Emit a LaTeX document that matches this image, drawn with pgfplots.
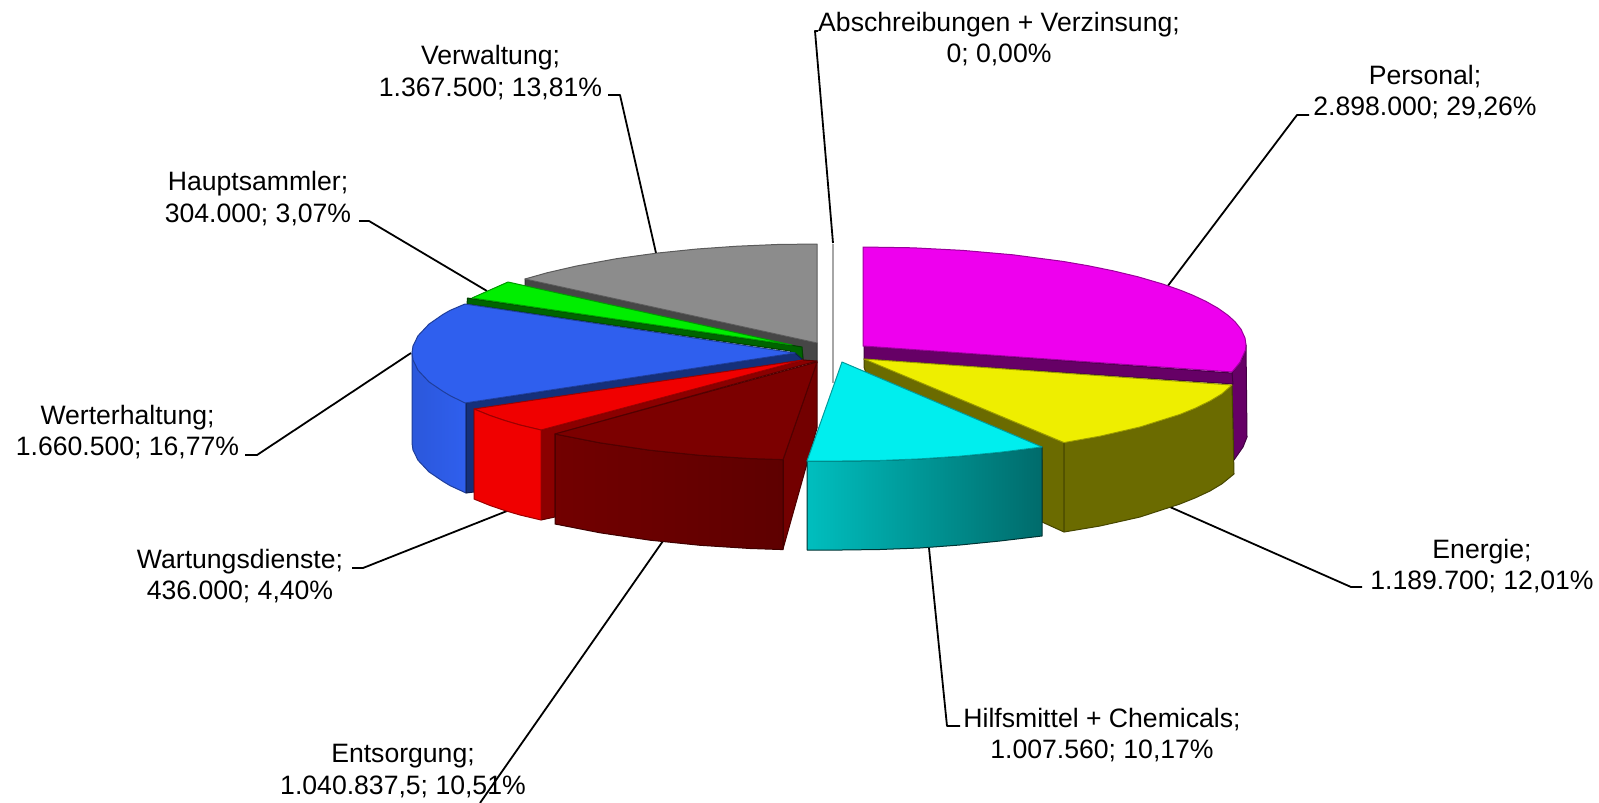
\documentclass[border=0pt]{standalone}
\usepackage{fontspec}
\setmainfont{Liberation Sans}
\usepackage{pgfplots}
\pgfplotsset{compat=1.18}
\definecolor{cMag}{HTML}{EE00EE}\definecolor{cPur}{HTML}{660066}
\definecolor{cYel}{HTML}{EEEE00}\definecolor{cOli}{HTML}{6B6B00}
\definecolor{cCya}{HTML}{00EEEE}
\definecolor{cDr}{HTML}{7C0000}\definecolor{cDrL}{HTML}{720000}\definecolor{cDrR}{HTML}{5E0000}\definecolor{cDrC}{HTML}{730000}
\definecolor{cRed}{HTML}{F00000}\definecolor{cRedC}{HTML}{8B0000}
\definecolor{cBlu}{HTML}{2F5FEE}\definecolor{cBluC}{HTML}{15307A}
\definecolor{cGre}{HTML}{00EE00}\definecolor{cGreC}{HTML}{006400}
\definecolor{cGra}{HTML}{8C8C8C}\definecolor{cGraC}{HTML}{464646}
\tikzset{
  leader/.style={black,line width=1.8pt},
  face/.style={draw=#1!65!black,line width=1pt,fill=#1},
  lab/.style={align=center,font=\fontsize{26.6}{31.4}\selectfont,inner sep=0pt,text=black},
}
\begin{document}
\begin{tikzpicture}
\begin{axis}[
  width=1599pt,height=803pt,scale only axis,
  xmin=0,xmax=1599,ymin=0,ymax=803,y dir=reverse,
  hide axis,clip=true,
  every axis plot/.append style={no markers,line join=round},
]
\addplot[draw=none] coordinates {(0,0)(1599,803)};
% leader lines
\addplot[leader] coordinates {(818,31)(815,31)(833,243)};
\addplot[leader] coordinates {(608,95)(620,95)(656,253)};
\addplot[leader] coordinates {(359,221)(369,221)(487,291)};
\addplot[leader] coordinates {(245,455)(257,455)(411,353)};
\addplot[leader] coordinates {(352,568)(363,568)(507,511)};
\addplot[leader] coordinates {(663,541)(480,803)};
\addplot[leader] coordinates {(929,548)(947,726)(960,726)};
\addplot[leader] coordinates {(1170,507)(1351,587)(1362,587)};
\addplot[leader] coordinates {(1167,287)(1297,115)(1309,115)};
% zero slice
\addplot[draw=black!35,line width=2pt] coordinates {(833,244)(833,383)};
% Verwaltung
\addplot[face=cGraC] coordinates {(525,279)(817,343)(817,362)(804,364)(802,349)(525,287)} -- cycle;
\addplot[face=cGra] coordinates {(817,343)(817,244)(777,244.5)(737,246.2)(697,249)(657,253.1)(617,258.6)(577,265.9)(547,272.8)(525,279)} -- cycle;
% Hauptsammler
\addplot[face=cGreC] coordinates {(467.5,298)(790,345)(802,347)(803,361)(797,360)(790,351)(467,304)} -- cycle;
\addplot[face=cGre] coordinates {(792,345)(508,282)(490,290)(472,298)} -- cycle;
% Werterhaltung
\addplot[draw=cBlu!65!black,line width=1pt,left color=cBlu!92!black,right color=cBlu] coordinates {(412,353)(412,443)(413,450)(418,460.2)(429,471.9)(443,481.4)(450,485.6)(466,493)(466,403)} -- cycle;
\addplot[face=cBluC] coordinates {(466,403)(795,353)(803,360)(474,411)(474,492)(466,493)} -- cycle;
\addplot[face=cBlu] coordinates {(795,353)(465,304)(450,310.4)(443,314.4)(429,324.1)(418,335.8)(413,346)(412,353)(413,360)(418,370.2)(429,381.9)(443,391.4)(450,395.6)(465,403)} -- cycle;
% Wartungsdienste
\addplot[face=cRedC] coordinates {(541,430)(803,360)(817,361)(555,434)(555,517)(541,520)} -- cycle;
\addplot[face=cRed] coordinates {(803,360)(474,409)(490,415.5)(505,420.6)(520,425)(541,430)} -- cycle;
\addplot[face=cRed] coordinates {(474,409)(474,499)(490,505.5)(505,510.6)(520,515)(541,520)(541,430)(520,425)(505,420.6)(490,415.5)} -- cycle;
% Entsorgung
\addplot[face=cDrC] coordinates {(817,362)(817,428)(783,549)(783,460)} -- cycle;
\addplot[draw=cDrR!65!black,line width=1pt,left color=cDrL,right color=cDrR] coordinates {(555,434)(555,524)(600,532.8)(650,540.2)(700,545.3)(750,548.5)(783,549.6)(783,459.6)(750,458.5)(700,455.3)(650,450.2)(600,442.8)} -- cycle;
\addplot[face=cDr] coordinates {(817,362)(555,434)(600,442.8)(650,450.2)(700,455.3)(750,458.5)(783,459.6)} -- cycle;
% Personal
\addplot[face=cPur] coordinates {(1246,345)(1247,437)(1243,447)(1234,460)(1232,385)(1232,373)(1236,367)(1243,357)} -- cycle;
\addplot[face=cPur] coordinates {(864,346)(1232,373)(1233,384)(864,359)} -- cycle;
\addplot[face=cMag] coordinates {(863,346)(863,247)(913,247.8)(963,250.4)(1013,254.8)(1063,261.4)(1088,265.7)(1113,270.8)(1138,276.8)(1163,284.1)(1181,290.4)(1193,295.3)(1206,301.4)(1218,308.2)(1228,315.3)(1235,321.7)(1241,329.2)(1245,338)(1246,345)(1245.5,350)(1240,362.2)(1236,367.2)(1232,372)} -- cycle;
% Energie
\addplot[face=cOli] coordinates {(864,359)(1064,442)(1064,532)(1042,522)(1042,460)(870,385)(864,367)} -- cycle;
\addplot[face=cOli] coordinates {(1064,442.6)(1064,532)(1100,526)(1140,517)(1180,504)(1195,498)(1210,491)(1222,483.8)(1234,474)(1232,385)(1222,393.8)(1210,401)(1195,408.3)(1180,414.4)(1140,427)(1100,436.2)} -- cycle;
\addplot[face=cYel] coordinates {(864,359)(1232,385)(1222,393.8)(1210,401)(1195,408.3)(1180,414.4)(1140,427)(1100,436.2)(1064,442.6)} -- cycle;
% Hilfsmittel
\addplot[draw=black!60!teal,line width=1pt,left color=cCya!80!black,right color=cCya!45!black] coordinates {(807,461)(807,550)(842,550)(880,549.5)(920,548)(960,545)(1000,541)(1042,536)(1042,447)(1000,452.3)(960,456.2)(920,458.9)(880,460.5)(842,461)} -- cycle;
\addplot[face=cCya] coordinates {(842,362)(1042,447)(1000,452.3)(960,456.2)(920,458.9)(880,460.5)(842,461)(807,461)} -- cycle;
% labels
\node[lab] at (axis cs:999,39) {Abschreibungen + Verzinsung;\\0; 0,00\%};
\node[lab] at (axis cs:490.5,72.5) {Verwaltung;\\1.367.500; 13,81\%};
\node[lab] at (axis cs:1425,92) {Personal;\\2.898.000; 29,26\%};
\node[lab] at (axis cs:258,198.5) {Hauptsammler;\\304.000; 3,07\%};
\node[lab] at (axis cs:127.5,432) {Werterhaltung;\\1.660.500; 16,77\%};
\node[lab] at (axis cs:240,576) {Wartungsdienste;\\436.000; 4,40\%};
\node[lab] at (axis cs:1482,566) {Energie;\\1.189.700; 12,01\%};
\node[lab] at (axis cs:1102,735) {Hilfsmittel + Chemicals;\\1.007.560; 10,17\%};
\node[lab] at (axis cs:403,771) {Entsorgung;\\1.040.837,5; 10,51\%};
\end{axis}
\end{tikzpicture}
\end{document}
